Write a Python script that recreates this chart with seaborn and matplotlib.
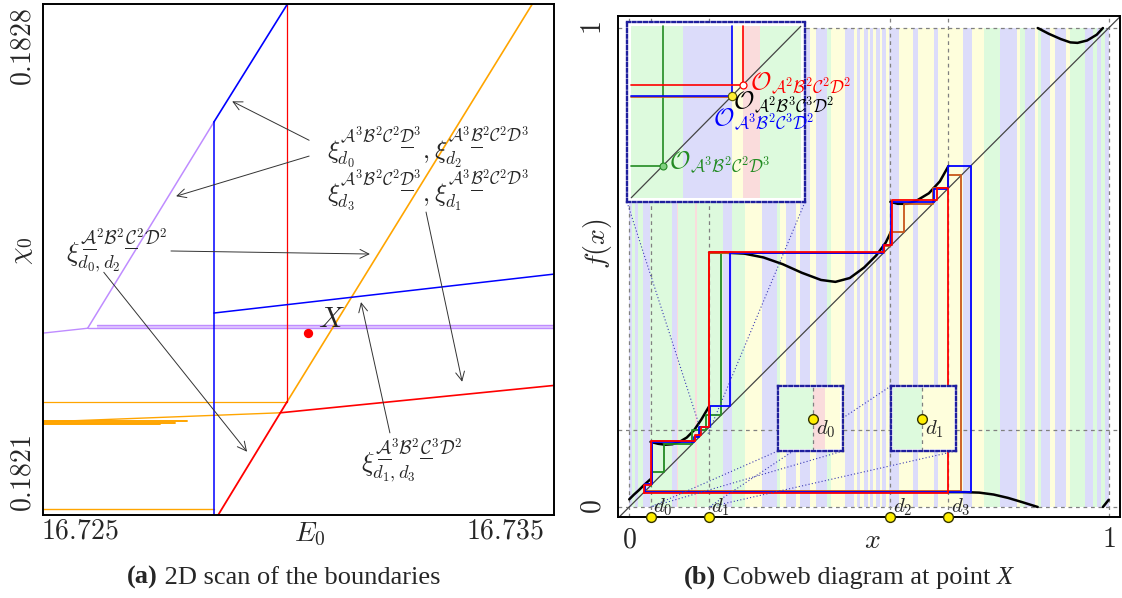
import matplotlib
matplotlib.use("Agg")
import matplotlib.pyplot as plt
import seaborn as sns
from matplotlib.mathtext import MathTextParser

sns.set_theme(style="white")
plt.rcParams["mathtext.fontset"] = "cm"
plt.rcParams["font.family"] = ["Liberation Serif", "DejaVu Serif"]
plt.rcParams["axes.edgecolor"] = "black"
plt.rcParams["axes.linewidth"] = 1.4

# ---------------- panel (a): boundaries in the (E0, chi0) plane ----------------
E_TICKS = [16.725, 16.735]
CHI_TICKS = [0.1821, 0.1828]
E_RANGE = [16.72413, 16.73615]
CHI_RANGE = [0.182031, 0.182871]

blue_steep_E = [16.72815, 16.72988]
blue_steep_chi = [0.182677, 0.182871]
blue_wall_E = [16.72815, 16.72815]
blue_wall_chi = [0.182031, 0.182677]
blue_low_E = [16.72815, 16.73615]
blue_low_chi = [0.182363, 0.182427]
red_wall_E = [16.72987, 16.72987]
red_wall_chi = [0.182217, 0.182871]
orange_steep_E = [16.72987, 16.73564]
orange_steep_chi = [0.182217, 0.182871]
red_steep_E = [16.72825, 16.72987]
red_steep_chi = [0.182031, 0.182217]
red_low_E = [16.72971, 16.73615]
red_low_chi = [0.182199, 0.182244]
orange_low_E = [16.72413, 16.72971]
orange_low_chi = [0.182184, 0.182199]
orange_flat_E = [16.72413, 16.72987]
orange_flat_chi = [0.182217, 0.182217]
orange_bundle_end = [16.72752, 16.72724, 16.72688]
orange_bundle_chi = [0.182185, 0.182183, 0.18218]
orange_base_E = [16.72413, 16.72815]
orange_base_chi = [0.182041, 0.182041]
violet_steep_E = [16.72518, 16.72815]
violet_steep_chi = [0.182338, 0.182677]
violet_left_E = [16.72413, 16.72518]
violet_left_chi = [0.18233, 0.182338]
violet_band_start = [16.72540, 16.72518]
violet_band_chi = [0.182344, 0.182338]
POINT_X = (16.73036, 0.18233)

# ---------------- panel (b): cobweb diagram ----------------
D_POINTS = [0.0444, 0.1666, 0.5447, 0.6659]
D_NAMES = ["d_0", "d_1", "d_2", "d_3"]
LEVEL = 0.161
X_RANGE = [-0.0234, 1.0236]
Y_RANGE = [-0.0209, 1.0251]

BAND_COLORS = {"G": "#ddfadd", "B": "#dcdcfa", "Y": "#fefedc", "P": "#fadcdc"}
band_edges = [0.000, 0.006, 0.013, 0.019, 0.029, 0.044, 0.090, 0.100, 0.102, 0.138,
              0.142, 0.196, 0.215, 0.242, 0.276, 0.309, 0.315, 0.326, 0.347, 0.357,
              0.378, 0.390, 0.413, 0.420, 0.451, 0.468, 0.476, 0.482, 0.489, 0.497,
              0.503, 0.509, 0.514, 0.522, 0.528, 0.535, 0.541, 0.562, 0.591, 0.603,
              0.635, 0.643, 0.697, 0.714, 0.739, 0.774, 0.808, 0.814, 0.825, 0.846,
              0.852, 0.858, 0.877, 0.889, 0.912, 0.919, 0.950, 0.967, 0.975, 0.985,
              0.992, 1.000]
band_codes = "BGBGBGBPGP" "GBGYBGYBYB" "YBGYBYBYBY" "BYBYBYBYBY" "BYBYGBYGBY" "GBYBYGBGBGB"

# branches of the map f
fa_x = [0.000, 0.010, 0.020, 0.030, 0.0444]
fa_y = [0.016, 0.026, 0.035, 0.045, 0.058]
fb_x = [0.0444, 0.060, 0.075, 0.090, 0.105, 0.120, 0.135, 0.150, 0.1666]
fb_y = [0.136, 0.132, 0.130, 0.131, 0.136, 0.145, 0.160, 0.182, 0.210]
fc_x = [0.1666, 0.200, 0.240, 0.280, 0.320, 0.360, 0.400, 0.430, 0.460, 0.490, 0.515, 0.535, 0.5447]
fc_y = [0.531, 0.531, 0.529, 0.521, 0.507, 0.489, 0.474, 0.470, 0.478, 0.500, 0.525, 0.552, 0.572]
fd_x = [0.5447, 0.560, 0.580, 0.600, 0.625, 0.648, 0.6659]
fd_y = [0.637, 0.633, 0.633, 0.640, 0.655, 0.680, 0.712]
fe_x = [0.6659, 0.700, 0.730, 0.760, 0.790, 0.820, 0.852]
fe_y = [0.031, 0.031, 0.030, 0.026, 0.019, 0.010, 0.000]
ff_x = [0.852, 0.875, 0.900, 0.920, 0.935, 0.955, 0.975, 0.988]
ff_y = [1.000, 0.988, 0.977, 0.970, 0.969, 0.974, 0.986, 1.000]
fg_x = [0.988, 1.000]
fg_y = [0.000, 0.015]

# periodic orbits (successive iterates)
green_orbit = [0.0444, 0.073, 0.131, 0.160, 0.192, 0.530]
brown_orbit = [0.033, 0.048, 0.137, 0.148, 0.1666, 0.531, 0.5447, 0.574, 0.633, 0.6659, 0.693]
blue_orbit = [0.032, 0.047, 0.136, 0.146, 0.168, 0.211, 0.530, 0.546, 0.636, 0.664, 0.712]
red_orbit = [0.030, 0.046, 0.138, 0.150, 0.1666, 0.532, 0.548, 0.641, 0.6659]

# magnified window near the diagonal
zoom_lo, zoom_hi = 0.152, 0.164
zoom_edges = [0.15200, 0.15564, 0.15915, 0.15988, 0.16110, 0.16400]
zoom_codes = "GBYPG"
fp_green, fp_blue, fp_red = 0.15422, 0.15915, 0.15988

# magnified windows around d0 and d1
d0_edges = [0.0417, 0.0444, 0.04545, 0.0467]
d0_codes = "GPY"
d1_edges = [0.1642, 0.1666, 0.1693]
d1_codes = "GY"

RED, BLUE, GREEN, BROWN = "#ff0000", "#0000ff", "#228b22", "#c8561a"
VIOLET, ORANGE = "#bf8cff", "#ffa500"
FRAME = "#1f1f9e"


def _parses(expr):
    try:
        MathTextParser("path").parse(expr)
        return True
    except Exception:
        return False


if _parses(r"$\underline{\mathcal{A}}$"):
    UNDER = r"\underline{%s}"
elif _parses(r"$\xi^{\underset{\overline{\quad}}{\mathcal{A}}^3}$"):
    UNDER = r"\underset{\overline{\quad}}{%s}"
else:
    UNDER = "%s"


def word(powers, under):
    out = ""
    for letter, p, u in zip("ABCD", powers, under):
        s = r"\mathcal{%s}" % letter
        if u:
            s = UNDER % s
        out += s + "^{%d}" % p
    return out


def xi(powers, under, sub):
    return r"\xi^{%s}_{%s}" % (word(powers, under), sub)


def orbit_name(powers):
    return r"$\mathcal{O}_{%s}$" % word(powers, [0, 0, 0, 0])


def seg(ax, xs, ys, color, lw=1.0, **kw):
    sns.lineplot(x=list(xs), y=list(ys), ax=ax, sort=False, estimator=None,
                 color=color, linewidth=lw, legend=False, **kw)


def cobweb(orbit, closed=True):
    xs, ys = [orbit[0]], [orbit[0]]
    n = len(orbit)
    for i in range(n if closed else n - 1):
        a, b = orbit[i], orbit[(i + 1) % n]
        xs += [a, b]
        ys += [b, b]
    return xs, ys


def bands(ax, edges, codes, y0, y1):
    ax.bar(edges[:-1], y1 - y0, width=[b - a for a, b in zip(edges[:-1], edges[1:])],
           bottom=y0, align="edge", color=[BAND_COLORS[c] for c in codes],
           linewidth=0, zorder=0)


fig = plt.figure(figsize=(11.22, 5.98), dpi=100)

# ====================== panel (a) ======================
axa = fig.add_axes([43 / 1122, 83 / 598, 511 / 1122, 511 / 598])
axa.set_facecolor("white")
axa.fill_between([violet_band_start[0], E_RANGE[1]], [violet_band_chi[0]] * 2,
                 [violet_band_chi[1]] * 2, color="#e2ccff", lw=0, zorder=1)
seg(axa, [violet_band_start[0], E_RANGE[1]], [violet_band_chi[0]] * 2, VIOLET, 1.0)
seg(axa, [violet_band_start[1], E_RANGE[1]], [violet_band_chi[1]] * 2, VIOLET, 1.0)
seg(axa, violet_left_E, violet_left_chi, VIOLET, 1.0)
seg(axa, violet_steep_E, violet_steep_chi, VIOLET, 1.1)
seg(axa, orange_flat_E, orange_flat_chi, ORANGE, 0.9)
seg(axa, orange_base_E, orange_base_chi, ORANGE, 1.0)
for end, c in zip(orange_bundle_end, orange_bundle_chi):
    seg(axa, [E_RANGE[0], end], [c, c], ORANGE, 1.4)
seg(axa, orange_low_E, orange_low_chi, ORANGE, 1.0)
seg(axa, orange_steep_E, orange_steep_chi, ORANGE, 1.2)
seg(axa, red_low_E, red_low_chi, RED, 1.2)
seg(axa, red_steep_E, red_steep_chi, RED, 1.3)
seg(axa, red_wall_E, red_wall_chi, RED, 0.9)
seg(axa, blue_wall_E, blue_wall_chi, BLUE, 1.1)
seg(axa, blue_low_E, blue_low_chi, BLUE, 1.1)
seg(axa, blue_steep_E, blue_steep_chi, BLUE, 1.2)
axa.scatter([POINT_X[0]], [POINT_X[1]], s=45, color=RED, zorder=6, linewidths=0)
axa.text(16.7306, 0.182351, r"$X$", fontsize=21, ha="left", va="center", zorder=7)

arrow_kw = dict(arrowstyle="->", color="#333333", lw=0.7, mutation_scale=16,
                shrinkA=0, shrinkB=0)
arrows = [((16.73039, 0.182647), (16.72858, 0.182711)),
          ((16.73039, 0.182621), (16.72726, 0.182555)),
          ((16.73314, 0.182529), (16.73399, 0.182250)),
          ((16.72714, 0.182465), (16.73182, 0.182460)),
          ((16.72556, 0.182430), (16.72893, 0.182135)),
          ((16.73229, 0.182166), (16.73161, 0.182381))]
for tail, tip in arrows:
    axa.annotate("", xy=tip, xytext=tail, arrowprops=arrow_kw, zorder=8)

row1 = "$" + xi([3, 2, 2, 3], [0, 0, 0, 1], "d_0") + r"," + xi([3, 2, 2, 3], [0, 1, 0, 0], "d_2") + "$"
row2 = "$" + xi([3, 2, 2, 3], [0, 0, 0, 1], "d_3") + r"," + xi([3, 2, 2, 3], [0, 1, 0, 0], "d_1") + "$"
lab2 = "$" + xi([2, 2, 2, 2], [1, 0, 1, 0], "d_0,d_2") + "$"
lab3 = "$" + xi([3, 2, 3, 2], [1, 0, 1, 0], "d_1,d_3") + "$"
tk = dict(ha="left", va="center", zorder=9)
axa.text(16.73081, 0.182636, row1, fontsize=18, **tk)
axa.text(16.73081, 0.182565, row2, fontsize=18, **tk)
axa.text(16.72467, 0.182466, lab2, fontsize=19, **tk)
axa.text(16.73161, 0.182121, lab3, fontsize=19, **tk)

axa.set_xlim(*E_RANGE)
axa.set_ylim(*CHI_RANGE)
axa.set_xticks(E_TICKS, [r"$16.725$", r"$16.735$"])
axa.set_yticks(CHI_TICKS, [r"$0.1821$", r"$0.1828$"])
axa.tick_params(axis="x", length=0, pad=3.5, labelsize=20)
axa.tick_params(axis="y", length=0, pad=5, labelsize=20)
for lbl in axa.get_yticklabels():
    lbl.set_rotation(90)
    lbl.set_va("center")
axa.text(-0.041, 0.517, r"$\chi_0$", transform=axa.transAxes, fontsize=20,
         rotation=90, ha="center", va="center")
axa.text(0.5225, -0.039, r"$E_0$", transform=axa.transAxes, fontsize=20,
         ha="center", va="center")
for s in axa.spines.values():
    s.set_linewidth(1.4)
    s.set_color("black")

# ====================== panel (b) ======================
axb = fig.add_axes([618 / 1122, 81 / 598, 502 / 1122, 501 / 598])
axb.set_facecolor("white")
bands(axb, band_edges, band_codes, 0.0, 1.0)

grid_kw = dict(color="#808080", lw=0.9, ls=(0, (3, 3)), zorder=1)
for v in [0.0, 1.0] + D_POINTS:
    axb.axvline(v, **grid_kw)
for h in [0.0, 1.0, LEVEL]:
    axb.axhline(h, **grid_kw)

seg(axb, X_RANGE, X_RANGE, "#444444", 0.9, zorder=2)
for xs, ys in [(fa_x, fa_y), (fb_x, fb_y), (fc_x, fc_y), (fd_x, fd_y),
               (fe_x, fe_y), (ff_x, ff_y), (fg_x, fg_y)]:
    seg(axb, xs, ys, "black", 1.8, zorder=3)

for orbit, color, closed in [(green_orbit, GREEN, False), (brown_orbit, BROWN, True),
                             (blue_orbit, BLUE, True), (red_orbit, RED, True)]:
    cx, cy = cobweb(orbit, closed)
    seg(axb, cx, cy, color, 1.3, zorder=4)

# magnified views
big = [-0.0046, 0.6367, 0.3712, 0.3758]
box0 = [0.3099, 0.1169, 0.1356, 0.1357]
box1 = [0.5457, 0.1169, 0.1356, 0.1357]

dot_kw = dict(color="#3a3ab4", lw=0.8, ls=(0, (1, 2)), zorder=4.5)
seg(axb, [big[0], zoom_lo], [big[1], zoom_lo], **dot_kw)
seg(axb, [big[0] + big[2], zoom_hi], [big[1], zoom_lo], **dot_kw)
seg(axb, [box0[0], D_POINTS[0]], [box0[1], 0.0], **dot_kw)
seg(axb, [box0[0] + box0[2], D_POINTS[0]], [box0[1], 0.0], **dot_kw)
seg(axb, [box1[0], D_POINTS[1]], [box1[1] + box1[3], 0.0], **dot_kw)
seg(axb, [box1[0] + box1[2], D_POINTS[1]], [box1[1], 0.0], **dot_kw)


def framed_inset(bounds):
    ins = axb.inset_axes(bounds, transform=axb.transData, zorder=6)
    ins.set_facecolor("white")
    ins.set_xticks([])
    ins.set_yticks([])
    for s in ins.spines.values():
        s.set_linestyle((0, (1.2, 1.2)))
        s.set_color(FRAME)
        s.set_linewidth(1.7)
    return ins


ins = framed_inset(big)
m = 0.0003
bands(ins, zoom_edges, zoom_codes, zoom_lo, zoom_hi)
seg(ins, [zoom_lo, zoom_hi], [zoom_lo, zoom_hi], "#444444", 0.9)
seg(ins, [zoom_lo, fp_green, fp_green], [fp_green, fp_green, zoom_hi], GREEN, 1.2)
seg(ins, [zoom_lo, fp_blue], [fp_blue - 0.00008] * 2, BROWN, 1.2)
seg(ins, [zoom_lo, fp_blue, fp_blue], [fp_blue, fp_blue, zoom_hi], BLUE, 1.2)
seg(ins, [zoom_lo, fp_red, fp_red], [fp_red, fp_red, zoom_hi], RED, 1.2)
ins.plot([fp_green], [fp_green], "o", ms=5, mfc="#7fd07f", mec=GREEN, mew=0.8, zorder=5)
ins.plot([fp_red], [fp_red], "o", ms=5, mfc="white", mec=RED, mew=0.9, zorder=5)
ins.plot([fp_blue], [fp_blue], "o", ms=6, mfc="#ffee33", mec="#555500", mew=0.8, zorder=5)
lk = dict(fontsize=18, ha="left", va="center", clip_on=False, zorder=7)
ins.text(0.16042, 0.16000, orbit_name([2, 2, 2, 2]), color=RED, **lk)
ins.text(0.15921, 0.15867, orbit_name([2, 3, 3, 2]), color="black", **lk)
ins.text(0.15780, 0.15747, orbit_name([3, 2, 3, 2]), color=BLUE, **lk)
ins.text(0.15470, 0.15447, orbit_name([3, 2, 2, 3]), color=GREEN, **lk)
ins.set_xlim(zoom_lo - m, zoom_hi + m)
ins.set_ylim(zoom_lo - m, zoom_hi + m)

for bounds, edges, codes, d, name in [(box0, d0_edges, d0_codes, D_POINTS[0], "d_0"),
                                      (box1, d1_edges, d1_codes, D_POINTS[1], "d_1")]:
    sub = framed_inset(bounds)
    half = 0.0025
    bands(sub, edges, codes, -half, half)
    sub.axvline(d, color="#808080", lw=0.9, ls=(0, (3, 3)), zorder=1)
    sub.plot([d], [0.0], "o", ms=7, mfc="#ffee00", mec="#333300", mew=1.0, zorder=5)
    width = edges[-1] - edges[0]
    sub.text(d + 0.06 * width, -0.0009, r"$%s$" % name, fontsize=15,
             ha="left", va="center", zorder=6)
    sub.set_xlim(edges[0] - 0.0002, edges[-1] + 0.0002)
    sub.set_ylim(-half - 0.0002, half + 0.0002)

# discontinuity points on the x axis
axb.scatter(D_POINTS, [Y_RANGE[0]] * 4, s=50, color="#ffee00", edgecolors="#333300",
            linewidths=1.0, zorder=10, clip_on=False)
for d, name in zip(D_POINTS, D_NAMES):
    axb.text(d + 0.0046, 0.0, r"$%s$" % name, fontsize=15, ha="left", va="center", zorder=9)

axb.set_xlim(*X_RANGE)
axb.set_ylim(*Y_RANGE)
axb.set_xticks([0, 1], [r"$0$", r"$1$"])
axb.set_yticks([0, 1], [r"$0$", r"$1$"])
axb.tick_params(axis="both", length=0, pad=8, labelsize=20)
for lbl in axb.get_yticklabels():
    lbl.set_rotation(90)
    lbl.set_va("center")
axb.text(-0.040, 0.545, r"$f(x)$", transform=axb.transAxes, fontsize=20,
         rotation=90, ha="center", va="center")
axb.text(0.506, -0.048, r"$x$", transform=axb.transAxes, fontsize=20,
         ha="center", va="center")
for s in axb.spines.values():
    s.set_linewidth(1.4)
    s.set_color("black")

# ---------------- captions ----------------
cap = dict(fontsize=19, family="Liberation Serif", va="center")
ta = fig.text(127 / 1122, 21 / 598, "(a)", weight="bold", ha="left", **cap)
axa.annotate(" 2D scan of the boundaries", xy=(1, 0), xycoords=ta, va="bottom",
             ha="left", fontsize=19, family="Liberation Serif", annotation_clip=False)
tb = fig.text(684 / 1122, 21 / 598, "(b)", weight="bold", ha="left", **cap)
tb2 = axb.annotate(" Cobweb diagram at point ", xy=(1, 0), xycoords=tb, va="bottom",
                   ha="left", fontsize=19, family="Liberation Serif", annotation_clip=False)
axb.annotate("X", xy=(1, 0), xycoords=tb2, va="bottom", ha="left", fontsize=19,
             family="Liberation Serif", style="italic", annotation_clip=False)

fig.savefig("out.png", dpi=100)
